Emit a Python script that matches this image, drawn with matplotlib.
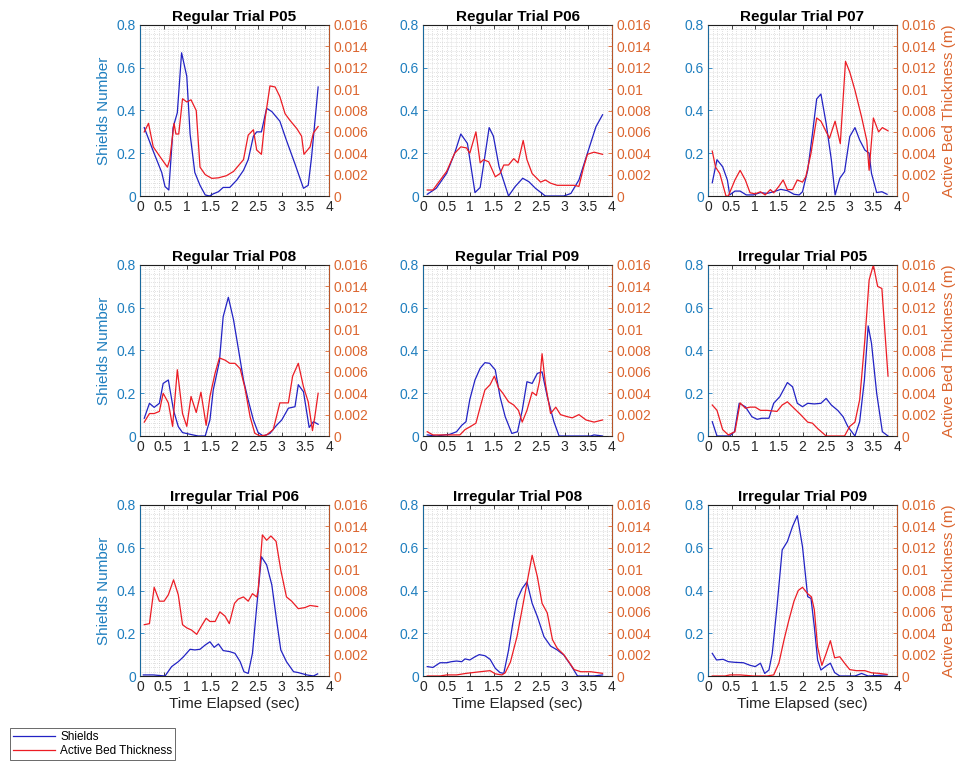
import matplotlib
matplotlib.use('Agg')
import matplotlib.pyplot as plt
from matplotlib.ticker import MultipleLocator, FuncFormatter

plt.rcParams['font.family'] = ['Liberation Sans', 'DejaVu Sans']

##########################
# values
##########################
# Regular Trial P05
reg05_ts = [0.09, 0.28, 0.46, 0.53, 0.61, 0.70, 0.79, 0.88, 0.99, 1.06, 1.16, 1.27, 1.38, 1.47, 1.55, 1.66, 1.76,
            1.90, 2.05, 2.19, 2.29, 2.40, 2.47, 2.57, 2.68, 2.79, 2.96, 3.10, 3.28, 3.46, 3.56, 3.63, 3.77]
reg05_s = [0.32, 0.21, 0.11, 0.044, 0.028, 0.32, 0.39, 0.67, 0.56, 0.29, 0.11, 0.05, 0.005, 0, 0.01, 0.02, 0.04,
           0.04, 0.075, 0.12, 0.17, 0.28, 0.30, 0.30, 0.41, 0.395, 0.35, 0.26, 0.15, 0.036, 0.05, 0.18, 0.51]
reg05_tb = [0.09, 0.18, 0.28, 0.42, 0.58, 0.63, 0.72, 0.76, 0.82, 0.90, 0.99, 1.08, 1.19, 1.27, 1.38, 1.52, 1.66,
            1.83, 1.98, 2.19, 2.29, 2.40, 2.47, 2.57, 2.65, 2.75, 2.86, 2.96, 3.07, 3.17, 3.32, 3.42, 3.47, 3.60,
            3.67, 3.77]
reg05_b = [0.0060, 0.0068, 0.0046, 0.0037, 0.0027, 0.0034, 0.0068, 0.0058, 0.0058, 0.0091, 0.0088, 0.0090, 0.0080,
           0.0027, 0.0020, 0.00165, 0.0017, 0.0019, 0.0023, 0.0034, 0.0057, 0.0062, 0.0043, 0.0039, 0.0073, 0.0103,
           0.0102, 0.0093, 0.0077, 0.0071, 0.0063, 0.0056, 0.0039, 0.0046, 0.0059, 0.0065]

# Regular Trial P06
reg06_ts = [0.09, 0.28, 0.50, 0.67, 0.80, 0.94, 1.10, 1.21, 1.40, 1.49, 1.61, 1.81, 1.95, 2.11, 2.24, 2.38, 2.59,
            2.98, 3.13, 3.30, 3.48, 3.66, 3.80]
reg06_s = [0.008, 0.036, 0.106, 0.20, 0.29, 0.246, 0.016, 0.04, 0.32, 0.28, 0.137, 0, 0.044, 0.083, 0.067, 0.036, 0,
           0, 0.012, 0.075, 0.20, 0.324, 0.38]
reg06_tb = [0.09, 0.21, 0.50, 0.67, 0.80, 0.92, 0.99, 1.12, 1.21, 1.28, 1.39, 1.53, 1.63, 1.71, 1.81, 1.92, 2.01,
            2.12, 2.20, 2.31, 2.49, 2.59, 2.70, 2.84, 3.05, 3.20, 3.30, 3.40, 3.48, 3.62, 3.80]
reg06_b = [0.00056, 0.00056, 0.0023, 0.0040, 0.0046, 0.0045, 0.0040, 0.0060, 0.0031, 0.0034, 0.0032, 0.0018, 0.0021,
           0.0029, 0.0029, 0.0035, 0.0031, 0.0052, 0.0034, 0.0021, 0.0013, 0.0015, 0.0012, 0.0010, 0.0010, 0.0010,
           0.0009, 0.0027, 0.0039, 0.0041, 0.0039]

# Regular Trial P07
reg07_ts = [0.09, 0.19, 0.31, 0.41, 0.46, 0.57, 0.68, 0.81, 0.96, 1.11, 1.25, 1.39, 1.54, 1.68, 1.82, 1.93, 2.00,
            2.11, 2.21, 2.30, 2.39, 2.50, 2.61, 2.69, 2.79, 2.89, 3.00, 3.11, 3.21, 3.32, 3.41, 3.46, 3.57, 3.68, 3.79]
reg07_s = [0.062, 0.17, 0.137, 0.075, 0.005, 0.023, 0.023, 0.005, 0.005, 0.016, 0.012, 0.02, 0.031, 0.025, 0.008,
           0.005, 0.02, 0.12, 0.29, 0.454, 0.477, 0.34, 0.17, 0.005, 0.083, 0.114, 0.278, 0.32, 0.262, 0.215, 0.20,
           0.106, 0.016, 0.02, 0.008]
reg07_tb = [0.09, 0.16, 0.25, 0.38, 0.43, 0.57, 0.68, 0.79, 0.89, 1.00, 1.11, 1.21, 1.32, 1.39, 1.50, 1.59, 1.68,
            1.79, 1.89, 2.00, 2.07, 2.18, 2.30, 2.39, 2.48, 2.57, 2.69, 2.80, 2.91, 3.00, 3.11, 3.25, 3.36, 3.41,
            3.50, 3.61, 3.69, 3.81]
reg07_b = [0.0042, 0.0027, 0.0021, 0, 0, 0.0015, 0.0024, 0.0015, 0.0003, 0.0002, 0.0004, 0.0001, 0.0006, 0.0003,
           0.0009, 0.0015, 0.0006, 0.0006, 0.0015, 0.0013, 0.0018, 0.0040, 0.0073, 0.0070, 0.0062, 0.0054, 0.0070,
           0.0049, 0.0126, 0.0116, 0.0099, 0.0074, 0.0052, 0.0024, 0.0073, 0.0060, 0.0064, 0.0061]

# Regular Trial P08
reg08_ts = [0.09, 0.20, 0.30, 0.41, 0.49, 0.60, 0.71, 0.81, 0.90, 1.06, 1.23, 1.38, 1.48, 1.55, 1.68, 1.76, 1.87,
            1.98, 2.08, 2.19, 2.29, 2.40, 2.50, 2.61, 2.75, 2.89, 3.00, 3.14, 3.28, 3.35, 3.46, 3.58, 3.67, 3.77]
reg08_s = [0.083, 0.153, 0.134, 0.153, 0.246, 0.262, 0.12, 0.044, 0.016, 0.008, 0, 0, 0.075, 0.215, 0.348, 0.558,
           0.649, 0.543, 0.41, 0.262, 0.168, 0.075, 0.016, 0, 0.012, 0.05, 0.075, 0.13, 0.137, 0.24, 0.207, 0.04,
           0.067, 0.055]
reg08_tb = [0.09, 0.20, 0.30, 0.41, 0.49, 0.60, 0.69, 0.79, 0.90, 0.99, 1.08, 1.19, 1.29, 1.40, 1.48, 1.59, 1.68,
            1.80, 1.90, 2.01, 2.12, 2.22, 2.33, 2.43, 2.54, 2.68, 2.82, 2.96, 3.14, 3.23, 3.35, 3.46, 3.56, 3.65,
            3.70, 3.77]
reg08_b = [0.0013, 0.0021, 0.0021, 0.0023, 0.0040, 0.0031, 0.0009, 0.0062, 0.0021, 0.0009, 0.0037, 0.0022, 0.0041,
           0.0010, 0.0037, 0.0059, 0.0073, 0.0071, 0.0068, 0.0068, 0.0063, 0.0045, 0.0018, 0.00025, 0, 0.0001,
           0.0006, 0.0031, 0.0031, 0.0056, 0.0068, 0.0046, 0.0032, 0.0005, 0.0018, 0.0040]

# Regular Trial P09
reg09_ts = [0.09, 0.28, 0.57, 0.71, 0.82, 0.91, 0.99, 1.10, 1.21, 1.31, 1.41, 1.53, 1.63, 1.74, 1.88, 2.00, 2.10,
            2.20, 2.31, 2.42, 2.52, 2.63, 2.77, 2.88, 3.55, 3.62, 3.80]
reg09_s = [0.005, 0, 0.008, 0.02, 0.05, 0.067, 0.17, 0.262, 0.317, 0.343, 0.34, 0.309, 0.184, 0.09, 0.012, 0.02,
           0.12, 0.254, 0.246, 0.293, 0.30, 0.184, 0.067, 0, 0, 0.005, 0]
reg09_tb = [0.09, 0.21, 0.50, 0.78, 0.89, 1.01, 1.12, 1.21, 1.31, 1.42, 1.51, 1.60, 1.69, 1.81, 1.92, 2.02, 2.10,
            2.20, 2.31, 2.40, 2.47, 2.52, 2.59, 2.70, 2.81, 2.91, 3.06, 3.16, 3.30, 3.45, 3.62, 3.80]
reg09_b = [0.0004, 0.0001, 0.0001, 0.0001, 0.0006, 0.0009, 0.0012, 0.0027, 0.0043, 0.0048, 0.0056, 0.0045, 0.0040,
           0.0032, 0.0029, 0.0024, 0.0013, 0.0024, 0.0041, 0.0038, 0.0052, 0.0077, 0.0049, 0.0021, 0.0027, 0.0020,
           0.0018, 0.0017, 0.0020, 0.0015, 0.0013, 0.0015]

# Irregular Trial P05
irr05_ts = [0.09, 0.19, 0.46, 0.56, 0.66, 0.79, 0.93, 1.04, 1.14, 1.29, 1.39, 1.52, 1.68, 1.79, 1.89, 2.00, 2.11,
            2.25, 2.39, 2.50, 2.61, 2.75, 2.86, 2.96, 3.11, 3.21, 3.31, 3.39, 3.46, 3.57, 3.69, 3.81]
irr05_s = [0.067, 0, 0, 0.02, 0.153, 0.137, 0.09, 0.078, 0.083, 0.083, 0.153, 0.184, 0.25, 0.23, 0.153, 0.137,
           0.153, 0.15, 0.153, 0.176, 0.145, 0.119, 0.09, 0.044, 0, 0.067, 0.262, 0.515, 0.434, 0.20, 0.02, 0]
irr05_tb = [0.09, 0.19, 0.31, 0.43, 0.57, 0.68, 0.79, 0.89, 1.00, 1.11, 1.25, 1.46, 1.57, 1.68, 1.82, 1.96, 2.11,
            2.21, 2.32, 2.50, 2.89, 3.00, 3.11, 3.21, 3.32, 3.41, 3.50, 3.59, 3.68, 3.81]
irr05_b = [0.0029, 0.0024, 0.0006, 0.0001, 0.0004, 0.0031, 0.0026, 0.0027, 0.0027, 0.0024, 0.0024, 0.0023, 0.0029,
           0.0032, 0.0026, 0.0020, 0.0013, 0.0012, 0.0007, 0, 0, 0.0009, 0.0013, 0.0034, 0.0090, 0.0146, 0.0160,
           0.0140, 0.0138, 0.0056]

# Irregular Trial P06
irr06_ts = [0.07, 0.28, 0.53, 0.67, 0.81, 0.92, 1.06, 1.16, 1.27, 1.38, 1.48, 1.57, 1.66, 1.76, 1.90, 2.01, 2.12,
            2.20, 2.29, 2.38, 2.47, 2.57, 2.68, 2.79, 2.89, 2.98, 3.10, 3.25, 3.35, 3.53, 3.67, 3.76]
irr06_s = [0.005, 0.005, 0, 0.044, 0.067, 0.09, 0.125, 0.122, 0.125, 0.145, 0.16, 0.134, 0.15, 0.119, 0.114, 0.106,
           0.067, 0.02, 0.012, 0.106, 0.324, 0.558, 0.52, 0.426, 0.262, 0.122, 0.067, 0.02, 0.016, 0.005, 0, 0.01]
irr06_tb = [0.09, 0.20, 0.30, 0.41, 0.51, 0.60, 0.71, 0.81, 0.90, 0.99, 1.09, 1.20, 1.29, 1.40, 1.48, 1.59, 1.69,
            1.80, 1.89, 2.00, 2.08, 2.19, 2.29, 2.38, 2.47, 2.50, 2.59, 2.68, 2.77, 2.88, 2.98, 3.10, 3.21, 3.35,
            3.49, 3.60, 3.76]
irr06_b = [0.0048, 0.0049, 0.0083, 0.0070, 0.0070, 0.0076, 0.0090, 0.0076, 0.0048, 0.0045, 0.0043, 0.0039, 0.0046,
           0.0054, 0.0051, 0.0051, 0.0060, 0.0056, 0.0049, 0.0068, 0.0072, 0.0074, 0.0070, 0.0077, 0.0074, 0.0080,
           0.0132, 0.0127, 0.0131, 0.0126, 0.0099, 0.0074, 0.0070, 0.0063, 0.0064, 0.0066, 0.0065]

# Irregular Trial P08
irr08_ts = [0.09, 0.21, 0.36, 0.50, 0.60, 0.71, 0.82, 0.89, 0.99, 1.10, 1.19, 1.31, 1.42, 1.53, 1.63, 1.71, 1.81,
            1.90, 1.99, 2.10, 2.20, 2.31, 2.42, 2.56, 2.70, 2.84, 2.98, 3.13, 3.27, 3.62, 3.80]
irr08_s = [0.044, 0.04, 0.062, 0.062, 0.067, 0.07, 0.067, 0.08, 0.075, 0.09, 0.10, 0.095, 0.078, 0.036, 0.016, 0.012,
           0.12, 0.246, 0.356, 0.41, 0.44, 0.34, 0.278, 0.184, 0.14, 0.122, 0.098, 0.05, 0, 0, 0.005]
irr08_tb = [0.09, 0.36, 0.50, 0.71, 0.92, 1.21, 1.42, 1.53, 1.67, 1.74, 1.85, 1.99, 2.10, 2.20, 2.31, 2.42, 2.52,
            2.63, 2.74, 2.84, 2.98, 3.09, 3.20, 3.34, 3.55, 3.80]
irr08_b = [0, 0, 0.0001, 0.0001, 0.00025, 0.0004, 0.0005, 0.0002, 0.0001, 0.0003, 0.0013, 0.0037, 0.0063, 0.0087,
           0.0113, 0.0093, 0.0068, 0.0059, 0.0034, 0.0026, 0.0020, 0.0013, 0.0006, 0.0004, 0.0004, 0.00025]

# Irregular Trial P09
irr09_ts = [0.09, 0.18, 0.32, 0.43, 0.57, 0.75, 0.89, 1.00, 1.11, 1.20, 1.29, 1.36, 1.46, 1.57, 1.68, 1.79, 1.89,
            2.00, 2.11, 2.18, 2.25, 2.32, 2.39, 2.50, 2.59, 2.68, 2.79, 3.11, 3.25, 3.39, 3.79]
irr09_s = [0.106, 0.075, 0.078, 0.067, 0.064, 0.062, 0.05, 0.044, 0.06, 0.012, 0.028, 0.106, 0.324, 0.59, 0.629,
           0.70, 0.75, 0.605, 0.371, 0.363, 0.23, 0.075, 0.028, 0.047, 0.06, 0.016, 0, 0, 0.012, 0, 0.005]
irr09_tb = [0.09, 0.36, 0.46, 0.68, 0.96, 1.25, 1.39, 1.50, 1.61, 1.71, 1.82, 1.91, 2.00, 2.11, 2.19, 2.25, 2.32,
            2.41, 2.50, 2.59, 2.68, 2.79, 2.89, 3.00, 3.14, 3.32, 3.46, 3.61, 3.79]
irr09_b = [0, 0, 0.0001, 0.0001, 0, 0, 0.0001, 0.0012, 0.0034, 0.0052, 0.0070, 0.0080, 0.0083, 0.0077, 0.0074,
           0.0062, 0.0027, 0.0010, 0.0021, 0.0033, 0.0017, 0.0018, 0.0012, 0.0006, 0.0005, 0.0005, 0.0003, 0.00025,
           0.00015]

titles = ["Regular Trial P05", "Regular Trial P06", "Regular Trial P07",
          "Regular Trial P08", "Regular Trial P09", "Irregular Trial P05",
          "Irregular Trial P06", "Irregular Trial P08", "Irregular Trial P09"]
panels = [(reg05_ts, reg05_s, reg05_tb, reg05_b), (reg06_ts, reg06_s, reg06_tb, reg06_b),
          (reg07_ts, reg07_s, reg07_tb, reg07_b), (reg08_ts, reg08_s, reg08_tb, reg08_b),
          (reg09_ts, reg09_s, reg09_tb, reg09_b), (irr05_ts, irr05_s, irr05_tb, irr05_b),
          (irr06_ts, irr06_s, irr06_tb, irr06_b), (irr08_ts, irr08_s, irr08_tb, irr08_b),
          (irr09_ts, irr09_s, irr09_tb, irr09_b)]

LEFT_C = '#1f7fbf'
RIGHT_C = '#dc6630'
AX_C = '#262626'
W, H = 960, 761

fig = plt.figure(figsize=(9.6, 7.61), dpi=100)

col_left = [140, 423, 708]
row_top = [25, 265, 505]
aw, ah = 189, 171

fmt = FuncFormatter(lambda v, p: '%g' % round(v, 6))

for i, (ts, s, tb, b) in enumerate(panels):
    r, c = divmod(i, 3)
    ax = fig.add_axes([col_left[c] / W, 1 - (row_top[r] + ah) / H, aw / W, ah / H])
    ax2 = ax.twinx()

    hs, = ax.plot(ts, s, color='#2222c4', lw=0.9)
    hb, = ax2.plot(tb, b, color='#ec1c24', lw=0.9)

    ax.set_xlim(0, 4)
    ax.set_ylim(0, 0.8)
    ax2.set_ylim(0, 0.016)
    ax.xaxis.set_major_locator(MultipleLocator(0.5))
    ax.xaxis.set_minor_locator(MultipleLocator(0.1))
    ax.yaxis.set_major_locator(MultipleLocator(0.2))
    ax.yaxis.set_minor_locator(MultipleLocator(0.02))
    ax2.yaxis.set_major_locator(MultipleLocator(0.002))
    ax.xaxis.set_major_formatter(fmt)
    ax.yaxis.set_major_formatter(fmt)
    ax2.yaxis.set_major_formatter(fmt)

    ax.grid(which='both', color='#c4c4c4', linestyle=(0, (1, 2)), linewidth=0.5)
    ax.set_axisbelow(True)

    ax.tick_params(which='major', direction='in', length=3, width=0.6, labelsize=10, top=True,
                   pad=3, colors=AX_C)
    ax.tick_params(which='minor', length=0, top=True)
    ax.tick_params(axis='y', colors=LEFT_C)
    ax2.tick_params(direction='in', length=3, width=0.6, labelsize=10, colors=RIGHT_C, pad=3)

    for sp in ['top', 'bottom']:
        ax2.spines[sp].set_color(AX_C)
        ax2.spines[sp].set_linewidth(0.6)
    ax2.spines['left'].set_color(LEFT_C)
    ax2.spines['right'].set_color(RIGHT_C)
    ax2.spines['left'].set_linewidth(0.6)
    ax2.spines['right'].set_linewidth(0.6)

    ax.set_title(titles[i], fontsize=11, fontweight='bold', color='black', pad=3)
    if c == 0:
        ax.set_ylabel("Shields Number", fontsize=11, color=LEFT_C, labelpad=4)
    if c == 2:
        ax2.set_ylabel("Active Bed Thickness (m)", fontsize=11, color=RIGHT_C, labelpad=4)
    if r == 2:
        ax.set_xlabel("Time Elapsed (sec)", fontsize=11, color=AX_C, labelpad=2)

leg = fig.legend([hs, hb], ["Shields", "Active Bed Thickness"], loc='lower left',
                 bbox_to_anchor=(10 / W, 1 / H), fontsize=8.5, frameon=True, fancybox=False,
                 borderaxespad=0, handlelength=3.6, handletextpad=0.4, borderpad=0.25,
                 labelspacing=0.2)
leg.get_frame().set_edgecolor(AX_C)
leg.get_frame().set_linewidth(0.6)

plt.savefig('out.png', dpi=100)
